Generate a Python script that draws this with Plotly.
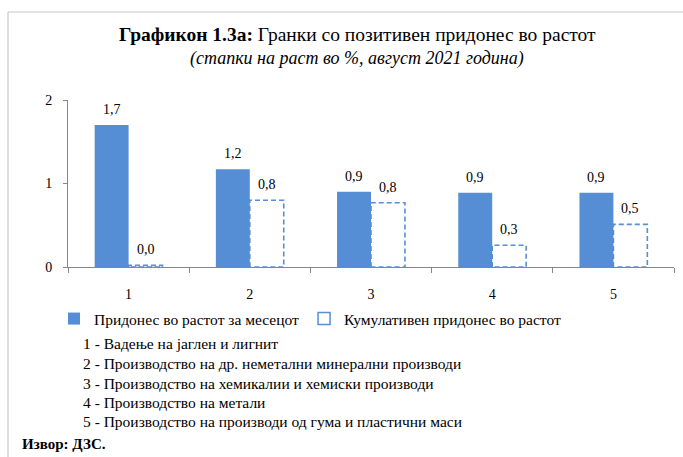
import plotly.graph_objects as go

categories = [1, 2, 3, 4, 5]
monthly = [1.70, 1.17, 0.90, 0.89, 0.89]
cumulative = [0.02, 0.80, 0.77, 0.26, 0.51]
monthly_labels = ["1,7", "1,2", "0,9", "0,9", "0,9"]
cumulative_labels = ["0,0", "0,8", "0,8", "0,3", "0,5"]
tick_labels = ["1", "2", "3", "4", "5"]
y_ticks = [0, 1, 2]
series_names = ["Придонес во растот за месецот", "Кумулативен придонес во растот"]
notes = [
    "1 - Вадење на јаглен и лигнит",
    "2 - Производство на др. неметални минерални производи",
    "3 - Производство на хемикалии и хемиски производи",
    "4 - Производство на метали",
    "5 - Производство на производи од гума и пластични маси",
]
title_bold = "Графикон 1.3а:"
title_rest = " Гранки со позитивен придонес во растот"
subtitle = "(стапки на раст во %, август 2021 година)"
source = "Извор: ДЗС."

W, H = 683, 457
L, R, T, B = 68, 9, 100, 190
PW = W - L - R
PH = H - T - B

def px(x):
    return (x - L) / PW

def py(y):
    return (H - B - y) / PH

BLUE = "#558ED5"
FONT = "Liberation Serif"
bw = 0.28

fig = go.Figure()
fig.add_trace(go.Bar(
    x=categories, y=monthly, width=bw, offset=-bw,
    marker=dict(color=BLUE, line=dict(width=0)),
    name=series_names[0], showlegend=True,
))

# cumulative: white boxes with dashed outline
xs, ys = [], []
for c, v in zip(categories, cumulative):
    xs += [c, c, c + bw, c + bw, c, None]
    ys += [0, v, v, 0, 0, None]
fig.add_trace(go.Scatter(
    x=xs, y=ys, mode="lines",
    line=dict(color=BLUE, width=1.6, dash="5px,3px"),
    showlegend=False, hoverinfo="skip",
))
# legend proxy
fig.add_trace(go.Bar(
    x=[None], y=[None], name=series_names[1],
    marker=dict(color="white", line=dict(color=BLUE, width=1.5)),
))

for c, v, t in zip(categories, monthly, monthly_labels):
    fig.add_annotation(x=c - bw / 2, y=v, text=t, showarrow=False,
                       yanchor="bottom", yshift=6, font=dict(size=14, family=FONT, color="#000"))
for c, v, t in zip(categories, cumulative, cumulative_labels):
    fig.add_annotation(x=c + bw / 2, y=v, text=t, showarrow=False,
                       yanchor="bottom", yshift=6, font=dict(size=14, family=FONT, color="#000"))

fig.add_annotation(xref="paper", yref="paper", x=px(357), y=py(35),
                   text="<b>" + title_bold + "</b>" + title_rest, showarrow=False,
                   xanchor="center", yanchor="middle", font=dict(size=19.5, family=FONT, color="#000"))
fig.add_annotation(xref="paper", yref="paper", x=px(357), y=py(58),
                   text="<i>" + subtitle + "</i>", showarrow=False,
                   xanchor="center", yanchor="middle", font=dict(size=18, family=FONT, color="#000"))

note_y = [343, 363, 383, 402, 421]
for yy, t in zip(note_y, notes):
    fig.add_annotation(xref="paper", yref="paper", x=px(81), y=py(yy), text=t,
                       showarrow=False, xanchor="left", yanchor="middle",
                       font=dict(size=15.5, family=FONT, color="#000"))
fig.add_annotation(xref="paper", yref="paper", x=px(20), y=py(444), text="<b>" + source + "</b>",
                   showarrow=False, xanchor="left", yanchor="middle",
                   font=dict(size=15, family=FONT, color="#000"))

fig.add_shape(type="line", xref="paper", yref="paper", x0=px(8), x1=px(683), y0=py(12), y1=py(12),
              line=dict(color="#C8C8C8", width=1.2))
fig.add_shape(type="line", xref="paper", yref="paper", x0=px(8), x1=px(8), y0=py(12), y1=py(457),
              line=dict(color="#C8C8C8", width=1.2))

fig.update_layout(
    width=W, height=H,
    margin=dict(l=L, r=R, t=T, b=B),
    paper_bgcolor="white", plot_bgcolor="white",
    font=dict(family=FONT, size=14, color="#000"),
    showlegend=True,
    legend=dict(orientation="h", x=px(54), y=py(319), xanchor="left", yanchor="middle",
                font=dict(size=15.5, family=FONT, color="#000"), itemwidth=30,
                traceorder="normal", bgcolor="rgba(0,0,0,0)"),
    xaxis=dict(range=[0.5, 5.5], tickvals=categories, ticktext=tick_labels,
               ticks="", showgrid=False, zeroline=False, showline=True,
               linecolor="#868686", linewidth=1, ticklabelstandoff=14,
               minor=dict(tickvals=[0.5, 1.5, 2.5, 3.5, 4.5, 5.5], ticks="outside",
                          ticklen=5, tickcolor="#868686", showgrid=False),
               fixedrange=True),
    yaxis=dict(range=[0, 2], tickvals=y_ticks, ticktext=[str(v) for v in y_ticks],
               ticks="outside", ticklen=4, tickcolor="#868686", showgrid=False,
               zeroline=False, showline=True, linecolor="#868686", linewidth=1,
               ticklabelstandoff=8, fixedrange=True),
)

fig.write_html("out.html", config={"displayModeBar": False},
               post_script=["document.body.style.margin='0';"])
